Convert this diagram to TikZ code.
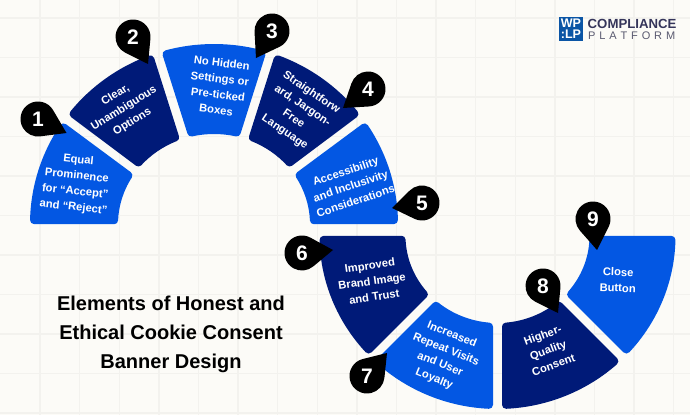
\documentclass[tikz,border=0pt]{standalone}
\usepackage{fontspec}
\setmainfont{Liberation Sans}
\definecolor{bgc}{HTML}{FCFBF7}
\definecolor{gridc}{HTML}{F3F2EE}
\definecolor{blueseg}{HTML}{0357E3}
\definecolor{navyseg}{HTML}{001A78}
\definecolor{logob}{HTML}{0B55A5}
\definecolor{logot}{HTML}{35355A}
\definecolor{logog}{HTML}{5A5A70}
\tikzset{
  seglabel/.style={text=white,font=\fontsize{11.2}{15.8}\selectfont\bfseries,align=center,inner sep=0pt},
  pinnum/.style={text=white,font=\fontsize{21}{21}\selectfont\bfseries,inner sep=0pt},
  titletext/.style={text=black,font=\fontsize{20}{29}\selectfont\bfseries,align=center,inner sep=0pt},
  gridline/.style={draw=gridc,line width=1.4pt},
  segfill/.style={line width=8pt,line join=round}
}
% angle a, side offset at a, angle b, side offset at b, colour
% the drawn shape is inset by the corner radius (4) and stroked with round joins
\newcommand\segm[5]{%
  \pgfmathsetmacro\sgn{(#3>#1)?1:-1}%
  \pgfmathsetmacro\oA{#1+\sgn*asin(#2/\sRx)}%
  \pgfmathsetmacro\oB{#3-\sgn*asin(#4/\sRx)}%
  \pgfmathsetmacro\iA{#1+\sgn*asin(#2/\srx)}%
  \pgfmathsetmacro\iB{#3-\sgn*asin(#4/\srx)}%
  \filldraw[#5,segfill]
    ({\scx+\sRx*cos(\oA)},{\scy+\sRy*sin(\oA)})
    arc[x radius=\sRx pt,y radius=\sRy pt,start angle=\oA,end angle=\oB]
    -- ({\scx+\srx*cos(\iB)},{\scy+\sry*sin(\iB)})
    arc[x radius=\srx pt,y radius=\sry pt,start angle=\iB,end angle=\iA]
    -- cycle;}
% pin: name, cx, cy (px from top), tip x, tip y, digit
\newcommand\pinmark[6]{%
  \pgfmathsetmacro\pcy{415-#3}\pgfmathsetmacro\pty{415-#5}%
  \pgfmathsetmacro\pth{atan2(\pty-\pcy,#4-#2)}%
  \pgfmathsetmacro\pd{sqrt((#4-#2)^2+(\pty-\pcy)^2)}%
  \pgfmathsetmacro\pal{acos(17.5/\pd)}%
  \pgfmathsetmacro\pA{\pth+\pal}\pgfmathsetmacro\pB{\pth+360-\pal}%
  \fill[black] (#4,\pty) -- ({#2+17.5*cos(\pA)},{\pcy+17.5*sin(\pA)})
    arc[radius=17.5pt,start angle=\pA,end angle=\pB] -- cycle;
  \node[pinnum] (#1) at (#2,\pcy) {#6};}
\begin{document}
\begin{tikzpicture}[x=1pt,y=1pt]
\useasboundingbox (0,0) rectangle (690,415);
\fill[bgc] (0,0) rectangle (690,415);
\foreach \i in {0,...,16} {\draw[gridline] ({40+39.6*\i},0) -- ({40+39.6*\i},415);}
\foreach \i in {0,...,10} {\draw[gridline] (0,{415-18-39.5*\i}) -- (690,{415-18-39.5*\i});}
% upper arc, centre (214,224 from top)
\def\scx{214}\def\scy{191}\def\sRx{180}\def\sRy{176}\def\srx{100}\def\sry{94}
\segm{180}{4}{144}{8.5}{blueseg}
\segm{144}{8.5}{108}{8.5}{navyseg}
\segm{108}{8.5}{72}{8.5}{blueseg}
\segm{72}{8.5}{36}{8.5}{navyseg}
\segm{36}{8.5}{0}{4}{blueseg}
% lower arc, centre (497.5,236 from top)
\def\scx{497.5}\def\scy{179}\def\sRx{174}\def\sRy{169}\def\srx{96}\def\sry{91}
\segm{180}{4}{225}{8.5}{navyseg}
\segm{225}{8.5}{270}{8.5}{blueseg}
\segm{270}{8.5}{315}{8.5}{navyseg}
\segm{315}{8.5}{360}{4}{blueseg}
% labels
\node[seglabel,rotate=-6] (s1) at (76,231) {Equal\\Prominence\\for “Accept”\\and “Reject”};
\node[seglabel,rotate=32] (s2) at (124,306.5) {Clear,\\Unambiguous\\Options};
\node[seglabel,rotate=-7] (s3) at (219,328.5) {No Hidden\\Settings or\\Pre-ticked\\Boxes};
\node[seglabel,rotate=-34] (s4) at (298,302.5) {Straightforw\\ard, Jargon-\\Free\\Language};
\node[seglabel,rotate=18.5] (s5) at (350.5,229) {Accessibility\\and Inclusivity\\Considerations};
\node[seglabel,rotate=8] (s6) at (372,134) {Improved\\Brand Image\\and Trust};
\node[seglabel,rotate=-22] (s7) at (443,58) {Increased\\Repeat Visits\\and User\\Loyalty};
\node[seglabel,rotate=20] (s8) at (548,65) {Higher-\\Quality\\Consent};
\node[seglabel,rotate=-2] (s9) at (618,135) {Close\\Button};
% pins
\pinmark{p1}{38}{119}{66.5}{133}{1}
\pinmark{p2}{133}{37}{148}{64}{2}
\pinmark{p3}{272}{31}{256}{58}{3}
\pinmark{p4}{368}{89}{343}{108}{4}
\pinmark{p5}{422}{203}{392}{208}{5}
\pinmark{p6}{302}{253}{333}{250}{6}
\pinmark{p7}{367}{376}{387}{353}{7}
\pinmark{p8}{543}{286}{558}{313}{8}
\pinmark{p9}{593}{219}{597}{250}{9}
% title
\node[titletext] (title) at (171,81) {Elements of Honest and\\Ethical Cookie Consent\\Banner Design};
% logo
\fill[logob] (559,374) rectangle (583,398);
\node[text=white,font=\fontsize{12.5}{12.5}\selectfont\bfseries,inner sep=0pt] (lw) at (571,391.5) {WP};
\node[text=white,font=\fontsize{12.5}{12.5}\selectfont\bfseries,inner sep=0pt] (ll) at (571,381) {:LP};
\node[text=logot,font=\fontsize{13.2}{13.2}\selectfont\bfseries,inner sep=0pt,anchor=west] (lc) at (587.5,391) {COMPLIANCE};
\node[text=logog,font=\fontsize{11}{11}\selectfont,inner sep=0pt,anchor=west] (lp) at (588,379) {\makebox[87pt][s]{P\hfill L\hfill A\hfill T\hfill F\hfill O\hfill R\hfill M}};
\end{tikzpicture}
\end{document}
